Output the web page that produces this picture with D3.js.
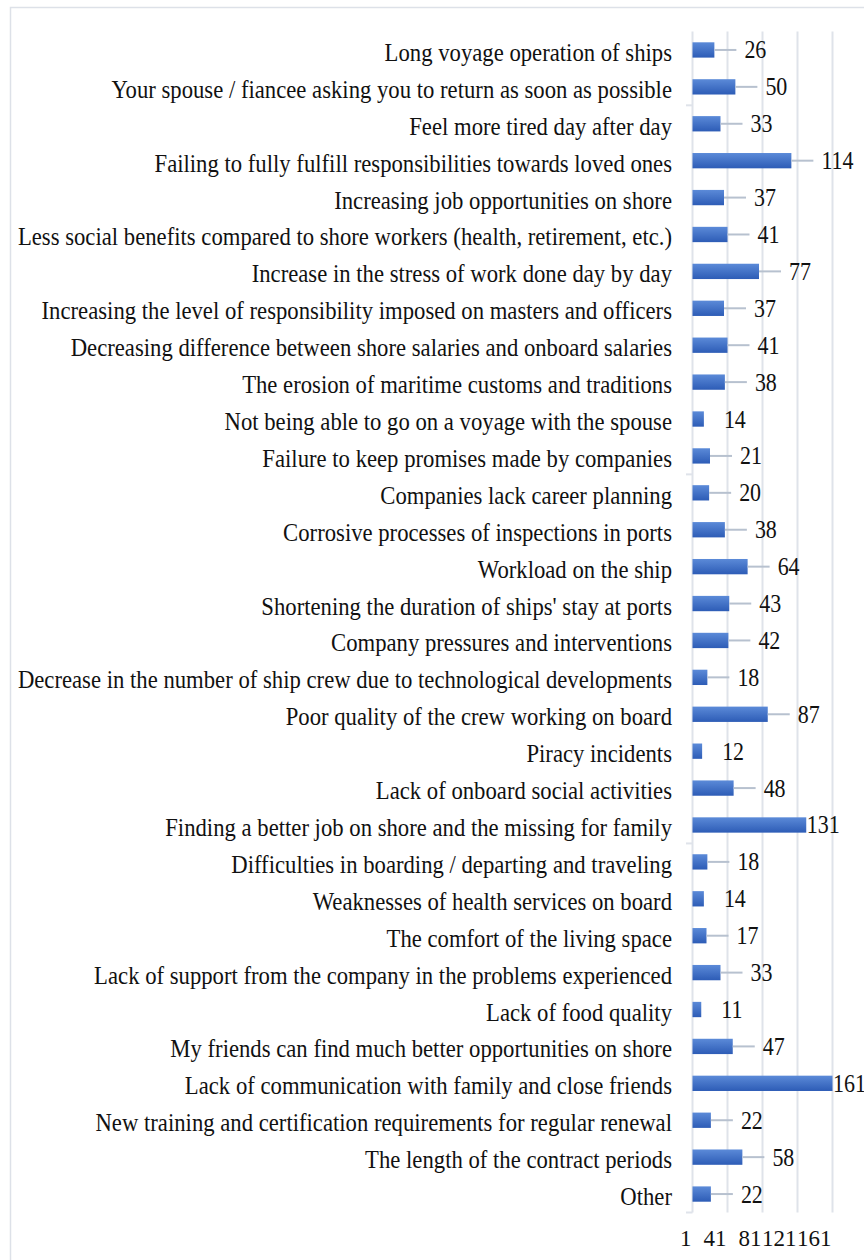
<!DOCTYPE html>
<html><head><meta charset="utf-8">
<script src="https://cdn.jsdelivr.net/npm/d3@7"></script>
<style>html,body{margin:0;padding:0;background:#fff}</style>
</head><body>
<svg id="c" width="864" height="1260"></svg>
<script>
const categories = [
  "Long voyage operation of ships",
  "Your spouse / fiancee asking you to return as soon as possible",
  "Feel more tired day after day",
  "Failing to fully fulfill responsibilities towards loved ones",
  "Increasing job opportunities on shore",
  "Less social benefits compared to shore workers (health, retirement, etc.)",
  "Increase in the stress of work done day by day",
  "Increasing the level of responsibility imposed on masters and officers",
  "Decreasing difference between shore salaries and onboard salaries",
  "The erosion of maritime customs and traditions",
  "Not being able to go on a voyage with the spouse",
  "Failure to keep promises made by companies",
  "Companies lack career planning",
  "Corrosive processes of inspections in ports",
  "Workload on the ship",
  "Shortening the duration of ships' stay at ports",
  "Company pressures and interventions",
  "Decrease in the number of ship crew due to technological developments",
  "Poor quality of the crew working on board",
  "Piracy incidents",
  "Lack of onboard social activities",
  "Finding a better job on shore and the missing for family",
  "Difficulties in boarding / departing and traveling",
  "Weaknesses of health services on board",
  "The comfort of the living space",
  "Lack of support from the company in the problems experienced",
  "Lack of food quality",
  "My friends can find much better opportunities on shore",
  "Lack of communication with family and close friends",
  "New training and certification requirements for regular renewal",
  "The length of the contract periods",
  "Other"
];
const values = [26,50,33,114,37,41,77,37,41,38,14,21,20,38,64,43,42,18,87,12,48,131,18,14,17,33,11,47,161,22,58,22];
const tickValues = [1,41,81,121,161];

const W = 864, H = 1260;
const svg = d3.select('#c');
svg.append('rect').attr('width', W).attr('height', H).attr('fill', '#fff');

const defs = svg.append('defs');
const grad = defs.append('linearGradient').attr('id','barg').attr('x1',0).attr('y1',0).attr('x2',0).attr('y2',1);
grad.append('stop').attr('offset','0%').attr('stop-color','#5b8ad8');
grad.append('stop').attr('offset','100%').attr('stop-color','#2d5cb6');

// chart area border
svg.append('rect').attr('x',10.5).attr('y',7.5).attr('width',900).attr('height',1300)
  .attr('fill','none').attr('stroke','#dde1e8').attr('stroke-width',1.5);

const plotTop = 31.5, plotBottom = 1212.5, plotLeft = 692.5;
const x = d3.scaleLinear().domain([1,161]).range([plotLeft, 832.5]);
const y = d3.scaleBand().domain(categories).range([plotTop, plotBottom]).paddingInner(0.585).paddingOuter(0.2925);
const step = y.step();

const font = "'Liberation Serif', 'Times New Roman', serif";
const stretch = 1.12;
const gridColor = '#dfe3ea';

// gridlines
svg.append('g').selectAll('line').data(tickValues).join('line')
  .attr('x1', d => x(d)).attr('x2', d => x(d))
  .attr('y1', plotTop).attr('y2', plotBottom)
  .attr('stroke', gridColor).attr('stroke-width', 2);

// category axis tick marks (every 10 categories from the bottom)
const tickIdx = d3.range(0, categories.length + 1, 10);
svg.append('g').selectAll('line').data(tickIdx).join('line')
  .attr('x1', plotLeft - 6.5).attr('x2', plotLeft)
  .attr('y1', d => plotBottom - d * step).attr('y2', d => plotBottom - d * step)
  .attr('stroke', gridColor).attr('stroke-width', 2);

// bars
svg.append('g').selectAll('rect').data(values).join('rect')
  .attr('x', x(1))
  .attr('y', (d,i) => y(categories[i]))
  .attr('width', d => x(d) - x(1))
  .attr('height', y.bandwidth())
  .attr('fill', 'url(#barg)');

// category labels
svg.append('g').selectAll('text').data(categories).join('text')
  .attr('transform', d => `translate(672,${y(d) + y.bandwidth()/2 + 11}) scale(1,${stretch})`)
  .attr('text-anchor','end')
  .attr('font-family', font).attr('font-size', 22.7).attr('fill','#111')
  .text(d => d);

// data labels with leader lines
const labelX = v => {
  const e = x(v);
  if (v < 15) return e + 20;
  return (e + 30 + 30 > W) ? e + 0.5 : e + 30;
};
const lg = svg.append('g');
values.forEach((v,i) => {
  const cy = y(categories[i]) + y.bandwidth()/2;
  const lx = labelX(v);
  if (lx - x(v) > 22) {
    lg.append('line').attr('x1', x(v)).attr('x2', lx - 8)
      .attr('y1', cy).attr('y2', cy)
      .attr('stroke', '#b7c1cf').attr('stroke-width', 2);
  }
  lg.append('text')
    .attr('transform', `translate(${lx},${cy + 8.5}) scale(1,${stretch})`)
    .attr('font-family', font).attr('font-size', 22).attr('fill','#111')
    .text(v);
});

// value axis labels
svg.append('g').selectAll('text').data(tickValues).join('text')
  .attr('transform', d => `translate(${x(d) - 1},1246) scale(1,1.0)`)
  .attr('text-anchor','end')
  .attr('font-family', font).attr('font-size', 23).attr('fill','#111')
  .text(d => d);
</script>
</body></html>
